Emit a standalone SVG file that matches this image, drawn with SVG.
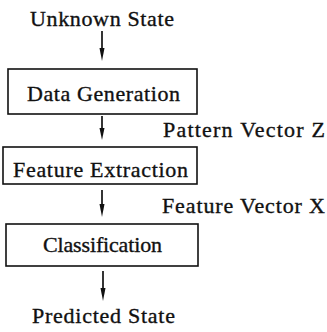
<svg xmlns="http://www.w3.org/2000/svg" width="327" height="332" viewBox="0 0 327 332">
  <style>
    .box { fill: #ffffff; stroke: #111111; stroke-width: 1.6; }
    .wire { stroke: #111111; stroke-width: 1.7; fill: none; }
    .head { fill: #111111; }
    .lbl { stroke: #111111; stroke-width: 0.35; }
  </style>
  <rect width="327" height="332" fill="#ffffff"/>

  <!-- vertical flow arrows between the stages -->
  <g id="connectors">
    <line class="wire" x1="102" y1="31" x2="102" y2="50"/>
    <path class="head" d="M99.5,48 L104.5,48 L102,61 Z"/>
    <line class="wire" x1="102" y1="116" x2="102" y2="130"/>
    <path class="head" d="M99.5,128 L104.5,128 L102,140 Z"/>
    <line class="wire" x1="102" y1="190" x2="102" y2="206"/>
    <path class="head" d="M99.5,204 L104.5,204 L102,217 Z"/>
    <line class="wire" x1="103" y1="271" x2="103" y2="290"/>
    <path class="head" d="M100.5,288 L105.5,288 L103,301 Z"/>
  </g>

  <g font-family="Liberation Serif, Times New Roman, serif" font-size="22" fill="#111111">
    <g id="unknown-state">
      <text class="lbl" x="30" y="26" textLength="144" lengthAdjust="spacing">Unknown State</text>
    </g>

    <g id="data-generation">
      <rect class="box" x="8" y="69" width="189" height="45"/>
      <text class="lbl" x="27" y="101" textLength="153" lengthAdjust="spacing">Data Generation</text>
    </g>

    <g id="pattern-vector">
      <text class="lbl" x="163" y="137" textLength="162" lengthAdjust="spacing">Pattern Vector Z</text>
    </g>

    <g id="feature-extraction">
      <rect class="box" x="3" y="147" width="194" height="37"/>
      <text class="lbl" x="13" y="177" textLength="175" lengthAdjust="spacing">Feature Extraction</text>
    </g>

    <g id="feature-vector">
      <text class="lbl" x="162" y="213" textLength="163" lengthAdjust="spacing">Feature Vector X</text>
    </g>

    <g id="classification">
      <rect class="box" x="6" y="224" width="192" height="42"/>
      <text class="lbl" x="43" y="252" textLength="119" lengthAdjust="spacing">Classification</text>
    </g>

    <g id="predicted-state">
      <text class="lbl" x="32" y="323" textLength="143" lengthAdjust="spacing">Predicted State</text>
    </g>
  </g>
</svg>
